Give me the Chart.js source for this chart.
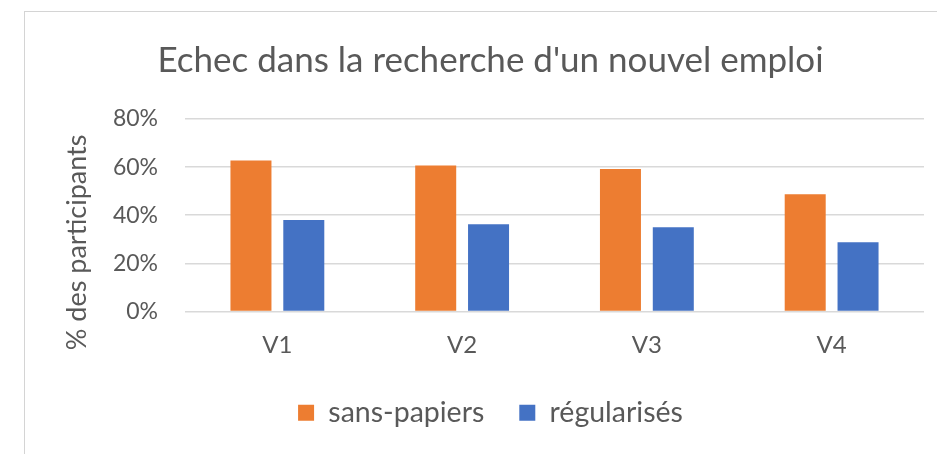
<!DOCTYPE html>
<html>
<head>
<meta charset="utf-8">
<script src="https://cdn.jsdelivr.net/npm/chart.js@4"></script>
<style>
  html, body { margin: 0; padding: 0; background: #fff; }
  #wrap { position: relative; width: 937px; height: 454px; overflow: hidden; }
  #frame { position: absolute; left: 24px; top: 11px; right: -5px; bottom: -5px; border-left: 1px solid #d4d4d4; border-top: 1px solid #d4d4d4; }
  #chartCanvas { position: absolute; left: 0; top: 0; }
</style>
</head>
<body>
<div id="wrap">
  <div id="frame"></div>
  <canvas id="chartCanvas" width="937" height="454"></canvas>
</div>
<script>
        // Data
        const categories = ['V1', 'V2', 'V3', 'V4'];
        const sansPapiers = [62.8, 60.7, 59.2, 48.7];
        const regularises = [38.0, 36.3, 35.0, 28.8];
        const yTicks = [0, 20, 40, 60, 80];

        const textColor = '#595959';
        const fontFamily = 'Lato, "Open Sans", sans-serif';

        const ctx = document.getElementById('chartCanvas').getContext('2d');
        const chart = new Chart(ctx, {
            type: 'bar',
            data: {
                labels: categories,
                datasets: [{
                    label: 'sans-papiers',
                    data: sansPapiers,
                    backgroundColor: '#ED7D31',
                    categoryPercentage: 0.572,
                    barPercentage: 0.776
                }, {
                    label: 'régularisés',
                    data: regularises,
                    backgroundColor: '#4472C4',
                    categoryPercentage: 0.572,
                    barPercentage: 0.776
                }]
            },
            options: {
                responsive: false,
                animation: false,
                layout: {
                    padding: { left: 57, right: 13, top: 0, bottom: 17 }
                },
                scales: {
                    x: {
                        grid: { display: false },
                        border: { display: false },
                        ticks: {
                            color: textColor,
                            padding: 11,
                            font: { family: fontFamily, size: 24 }
                        },
                        afterFit: function(scale) {
                            scale.height = 52;
                        }
                    },
                    y: {
                        min: 0,
                        max: 80,
                        afterBuildTicks: function(scale) {
                            scale.ticks = yTicks.map(v => ({ value: v }));
                        },
                        grid: {
                            color: '#d9d9d9',
                            lineWidth: 1.6,
                            drawTicks: false
                        },
                        border: { display: false },
                        ticks: {
                            color: textColor,
                            padding: 27,
                            font: { family: fontFamily, size: 23 },
                            callback: function(value) {
                                return value + '%';
                            }
                        },
                        title: {
                            display: true,
                            // trailing spaces push the title down, as in the original
                            text: '% des participants\u2003\u2003  ',
                            color: textColor,
                            font: { family: fontFamily, size: 27, weight: 'normal' },
                            padding: { top: 4, bottom: 4 }
                        },
                        afterFit: function(scale) {
                            scale.width = 128;
                        }
                    }
                },
                plugins: {
                    title: {
                        display: true,
                        text: "Echec dans la recherche d'un nouvel emploi",
                        color: textColor,
                        font: { family: fontFamily, size: 35, weight: 'normal' },
                        padding: { top: 39.5, bottom: 37.5 }
                    },
                    legend: {
                        position: 'bottom',
                        labels: {
                            color: textColor,
                            boxWidth: 16,
                            boxHeight: 16,
                            padding: 35,
                            font: { family: fontFamily, size: 28.5 }
                        }
                    },
                    tooltip: { enabled: false }
                }
            }
        });
</script>
</body>
</html>
